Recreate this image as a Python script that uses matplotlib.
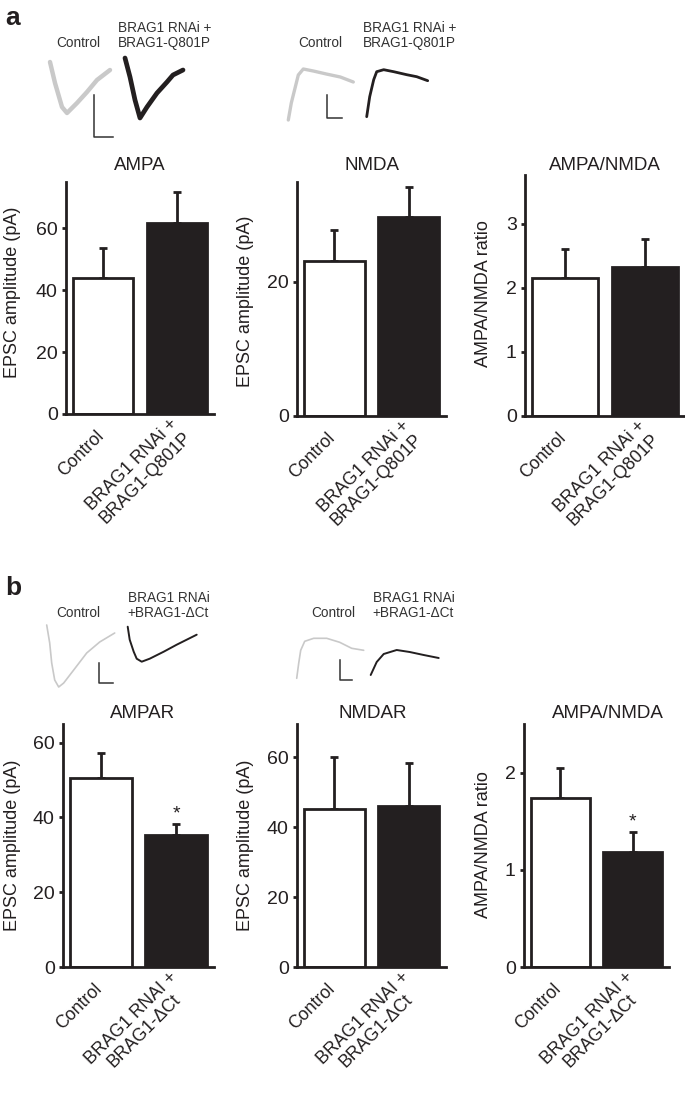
import matplotlib
matplotlib.use('Agg')
import matplotlib.pyplot as plt
from matplotlib.transforms import ScaledTranslation

plt.rcParams['font.family'] = ['Liberation Sans', 'DejaVu Sans']

W, H = 685, 1099
DARK = '#231f20'
GREY = '#c9c9c9'

# bar data (mean, sem)
labels_a = ['Control', 'BRAG1 RNAi +\nBRAG1-Q801P']
labels_b = ['Control', 'BRAG1 RNAI +\nBRAG1-\u0394Ct']

a_ampa_mean = [44.0, 61.7]
a_ampa_sem = [9.8, 10.2]
a_nmda_mean = [23.0, 29.6]
a_nmda_sem = [4.6, 4.4]
a_ratio_mean = [2.16, 2.32]
a_ratio_sem = [0.44, 0.44]

b_ampa_mean = [50.6, 35.3]
b_ampa_sem = [6.7, 2.9]
b_nmda_mean = [45.3, 46.0]
b_nmda_sem = [14.9, 12.3]
b_ratio_mean = [1.74, 1.18]
b_ratio_sem = [0.31, 0.21]

# example traces (time, amplitude), arbitrary units, relative to trace start
a_ampa_ctrl_t = [0, 5, 12, 17, 27, 37, 47, 60]
a_ampa_ctrl_i = [0, -21, -45, -51, -41, -30, -18, -8]
a_ampa_mut_t = [0, 5, 10, 15, 22, 32, 42, 48, 58]
a_ampa_mut_i = [0, -19, -42, -60, -49, -35, -24, -17, -12]

a_nmda_ctrl_t = [0, 3, 7, 10, 15, 25, 38, 52, 65]
a_nmda_ctrl_i = [0, 17, 33, 45, 51, 49, 46, 43, 38]
a_nmda_mut_t = [0, 3, 7, 10, 17, 27, 40, 50, 61]
a_nmda_mut_i = [0, 20, 37, 45, 47, 45, 42, 40, 36]

b_ampa_ctrl_t = [0, 3, 5, 8, 12, 17, 27, 40, 53, 68]
b_ampa_ctrl_i = [0, -18, -38, -55, -62, -58, -45, -28, -17, -8]
b_ampa_mut_t = [0, 2, 6, 9, 14, 22, 36, 49, 59, 69]
b_ampa_mut_i = [0, -13, -25, -32, -35, -32, -25, -18, -13, -8]

b_nmda_ctrl_t = [0, 2, 4, 8, 17, 30, 43, 55, 67]
b_nmda_ctrl_i = [0, 15, 28, 37, 40, 40, 36, 30, 28]
b_nmda_mut_t = [0, 6, 13, 26, 39, 53, 68]
b_nmda_mut_i = [0, 13, 21, 25, 23, 20, 17]

fig = plt.figure(figsize=(W / 100, H / 100), dpi=100)

# canvas in pixel units for the example traces
canvas = fig.add_axes([0, 0, 1, 1])
canvas.set_xlim(0, W)
canvas.set_ylim(H, 0)
canvas.axis('off')


def trace(t, amp, ox, oy, color, lw):
    canvas.plot([ox + v for v in t], [oy - v for v in amp], color=color, lw=lw,
                solid_capstyle='round', solid_joinstyle='round')


def scalebar(x, y0, y1, x1):
    canvas.plot([x, x, x1], [y0, y1, y1], color='#333333', lw=1.1)


def trace_labels(xc, x2, y, text2):
    canvas.text(xc, y, 'Control', ha='center', va='baseline', fontsize=9.8, color='#333333')
    canvas.text(x2, y, text2, ha='left', va='baseline', fontsize=9.8, color='#333333',
                linespacing=1.12)


# panel a traces
trace(a_ampa_ctrl_t, a_ampa_ctrl_i, 50, 62, GREY, 3.2)
trace(a_ampa_mut_t, a_ampa_mut_i, 125, 58, DARK, 3.4)
scalebar(94.3, 95, 136.7, 113.3)
trace(a_nmda_ctrl_t, a_nmda_ctrl_i, 288.3, 120, GREY, 2.4)
trace(a_nmda_mut_t, a_nmda_mut_i, 366.7, 116.7, DARK, 2.0)
scalebar(327.3, 95, 118.3, 341.7)
trace_labels(78, 118, 47, 'BRAG1 RNAi +\nBRAG1-Q801P')
trace_labels(320, 362.7, 47, 'BRAG1 RNAi +\nBRAG1-Q801P')

# panel b traces
trace(b_ampa_ctrl_t, b_ampa_ctrl_i, 46.7, 625, GREY, 1.2)
trace(b_ampa_mut_t, b_ampa_mut_i, 127.7, 626.7, DARK, 1.4)
scalebar(99, 663.3, 683.3, 113.3)
trace(b_nmda_ctrl_t, b_nmda_ctrl_i, 296.7, 678.3, GREY, 1.2)
trace(b_nmda_mut_t, b_nmda_mut_i, 370.7, 675, DARK, 1.4)
scalebar(340, 660, 680, 351.7)
trace_labels(78.3, 127.7, 617, 'BRAG1 RNAi\n+BRAG1-\u0394Ct')
trace_labels(333.3, 372.7, 617, 'BRAG1 RNAi\n+BRAG1-\u0394Ct')

fig.text(5 / W, 1 - 25 / H, 'a', fontsize=19, fontweight='bold', color=DARK)
fig.text(5 / W, 1 - 595 / H, 'b', fontsize=19, fontweight='bold', color=DARK)


def bar_panel(box, means, sems, labels, ymax, yticks, title, title_xy, ylabel, ylab_xy, star=False):
    l, t, r, b = box
    ax = fig.add_axes([l / W, 1 - b / H, (r - l) / W, (b - t) / H])
    ax.patch.set_alpha(0)
    x = [0, 1]
    ax.bar(x, means, width=0.82, color=['white', DARK], edgecolor=DARK, linewidth=2.0, zorder=2)
    ax.errorbar(x, means, yerr=[[0, 0], sems], fmt='none', ecolor=DARK, elinewidth=2.0,
                capsize=3, capthick=2.0, zorder=1)
    ax.set_xlim(-0.5, 1.5)
    ax.set_ylim(0, ymax)
    ax.set_yticks(yticks)
    ax.set_xticks(x)
    ax.set_xticklabels(labels, rotation=45, rotation_mode='anchor', ha='right', va='center',
                       multialignment='center', fontsize=12.8, color=DARK, linespacing=1.1)
    ax.tick_params(axis='x', length=0, pad=14)
    ax.tick_params(axis='y', length=3, width=2, pad=3, labelsize=14, colors=DARK)
    for s in ['top', 'right']:
        ax.spines[s].set_visible(False)
    for s in ['left', 'bottom']:
        ax.spines[s].set_linewidth(2.0)
        ax.spines[s].set_color(DARK)
    # nudge the rotated category labels relative to their ticks
    for lab, (dx, dy) in zip(ax.get_xticklabels(), [(-1, 0), (3.5, 4)]):
        lab.set_transform(lab.get_transform() + ScaledTranslation(dx / 72, dy / 72, fig.dpi_scale_trans))
    ax.set_ylabel(ylabel, fontsize=13, color=DARK)
    ax.yaxis.label.set_va('center')
    lx, ly = ylab_xy
    ax.yaxis.set_label_coords((lx - l) / (r - l), (b - ly) / (b - t))
    tx, ty = title_xy
    ax.text((tx - l) / (r - l), (b - ty) / (b - t), title, transform=ax.transAxes,
            ha='center', va='baseline', fontsize=13.5, color=DARK)
    if star:
        ax.annotate('*', (1, means[1] + sems[1]), xytext=(0, 4), textcoords='offset points',
                    ha='center', va='baseline', fontsize=14, color=DARK)
    return ax


bar_panel((66, 182, 214, 414), a_ampa_mean, a_ampa_sem, labels_a, 75, [0, 20, 40, 60],
          'AMPA', (140, 170), 'EPSC amplitude (pA)', (13, 292))
bar_panel((297, 182, 446, 416), a_nmda_mean, a_nmda_sem, labels_a, 34.8, [0, 20],
          'NMDA', (371.5, 170), 'EPSC amplitude (pA)', (245, 301))
bar_panel((525, 175, 685, 416), a_ratio_mean, a_ratio_sem, labels_a, 3.76, [0, 1, 2, 3],
          'AMPA/NMDA', (605, 170), 'AMPA/NMDA ratio', (483, 294))

bar_panel((63, 724, 214, 967), b_ampa_mean, b_ampa_sem, labels_b, 65, [0, 20, 40, 60],
          'AMPAR', (142.5, 718), 'EPSC amplitude (pA)', (13, 845), star=True)
bar_panel((297, 724, 446, 967), b_nmda_mean, b_nmda_sem, labels_b, 69.5, [0, 20, 40, 60],
          'NMDAR', (373, 718), 'EPSC amplitude (pA)', (245, 845))
bar_panel((524, 724, 669, 967), b_ratio_mean, b_ratio_sem, labels_b, 2.5, [0, 1, 2],
          'AMPA/NMDA', (607.5, 718), 'AMPA/NMDA ratio', (483, 845), star=True)

fig.savefig('out.png', dpi=100)
